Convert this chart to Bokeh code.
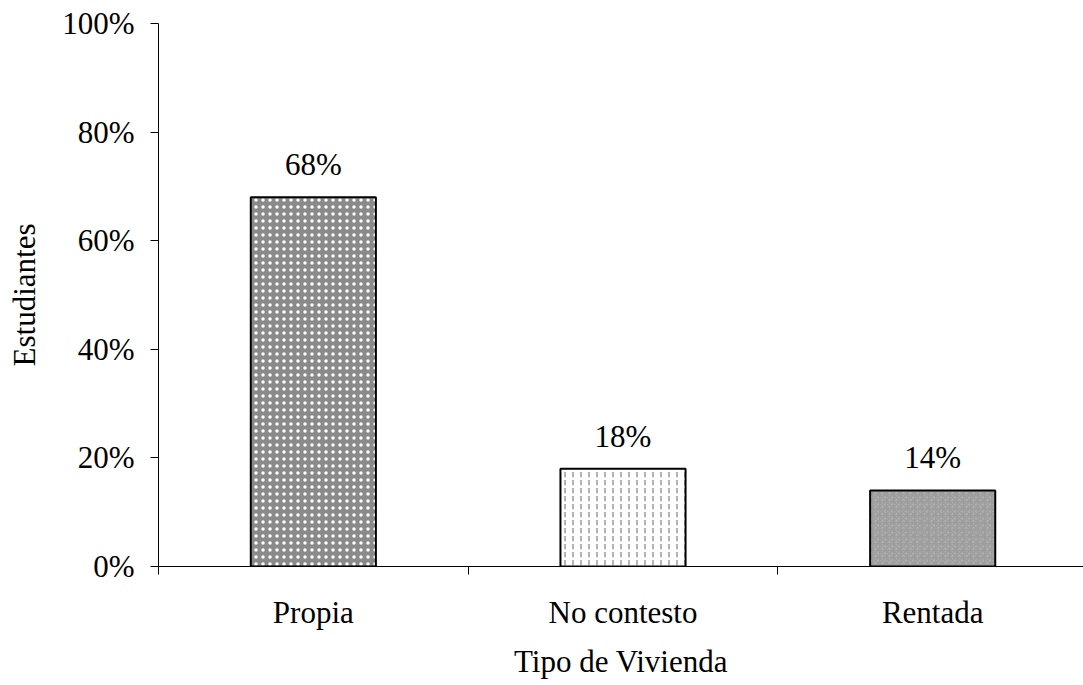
from bokeh.plotting import figure
from bokeh.models import ColumnDataSource, FixedTicker, NumeralTickFormatter, Range1d
from bokeh.core.properties import value
from bokeh.embed import file_html
from bokeh.resources import INLINE

categories = ["Propia", "No contesto", "Rentada"]
values = [0.68, 0.18, 0.14]
labels = ["68%", "18%", "14%"]
y_ticks = [0, 0.2, 0.4, 0.6, 0.8, 1.0]

FONT = "Liberation Serif"
FS = "31px"
xs = [i + 0.5 for i in range(len(categories))]

p = figure(width=1083, height=685, output_backend="svg", toolbar_location=None,
           x_range=Range1d(0, 2.987), y_range=Range1d(0, 1.0),
           min_border_left=158, min_border_right=0, min_border_top=23, min_border_bottom=119)
p.outline_line_color = None
p.xgrid.grid_line_color = None
p.ygrid.grid_line_color = None
p.background_fill_color = "white"
p.border_fill_color = "white"

fills = ["#8a8a8a", "white", "#b0b0b0"]
hatches = ["dot", "vertical_dash", "criss_cross"]
hcolors = ["white", "#9a9a9a", "#777777"]
hscales = [7, 8, 7]
halpha = [1.0, 1.0, 0.35]
hweights = [3, 1.5, 1.5]
for i in range(3):
    src = ColumnDataSource(dict(x=[xs[i]], top=[values[i]]))
    p.vbar(x="x", top="top", bottom=0, width=0.404, source=src,
           fill_color=fills[i], line_color="black", line_width=2,
           hatch_pattern=hatches[i], hatch_color=hcolors[i], hatch_scale=hscales[i],
           hatch_alpha=halpha[i], hatch_weight=hweights[i])

lsrc = ColumnDataSource(dict(x=xs, y=values, t=labels))
p.text(x="x", y="y", text="t", source=lsrc, text_align="center", text_baseline="bottom",
       y_offset=-15, text_font=value(FONT), text_font_size=FS, text_color="black")

p.yaxis.ticker = FixedTicker(ticks=y_ticks)
p.yaxis.formatter = NumeralTickFormatter(format="0%")
p.yaxis.axis_label = "Estudiantes"
p.yaxis.major_tick_out = 8
p.yaxis.major_tick_in = 0
p.yaxis.major_label_standoff = 16

p.xaxis.ticker = FixedTicker(ticks=xs, minor_ticks=[0, 1, 2, 3])
p.xaxis.major_label_overrides = {xs[i]: categories[i] for i in range(3)}
p.xaxis.axis_label = "Tipo de Vivienda"
p.xaxis.major_tick_out = 0
p.xaxis.major_tick_in = 0
p.xaxis.minor_tick_out = 8
p.xaxis.minor_tick_in = 0
p.xaxis.major_label_standoff = 20

for ax in (p.xaxis, p.yaxis):
    ax.axis_line_color = "black"
    ax.axis_line_width = 1
    ax.major_tick_line_color = "black"
    ax.major_label_text_font = FONT
    ax.major_label_text_font_size = FS
    ax.major_label_text_color = "black"
    ax.axis_label_text_font = FONT
    ax.axis_label_text_font_size = FS
    ax.axis_label_text_font_style = "normal"
    ax.axis_label_text_color = "black"
p.xaxis.minor_tick_line_color = "black"
p.yaxis.minor_tick_line_color = None
p.xaxis.axis_label_standoff = 11
p.yaxis.axis_label_standoff = 17

open("out.html", "w").write(file_html(p, INLINE))
